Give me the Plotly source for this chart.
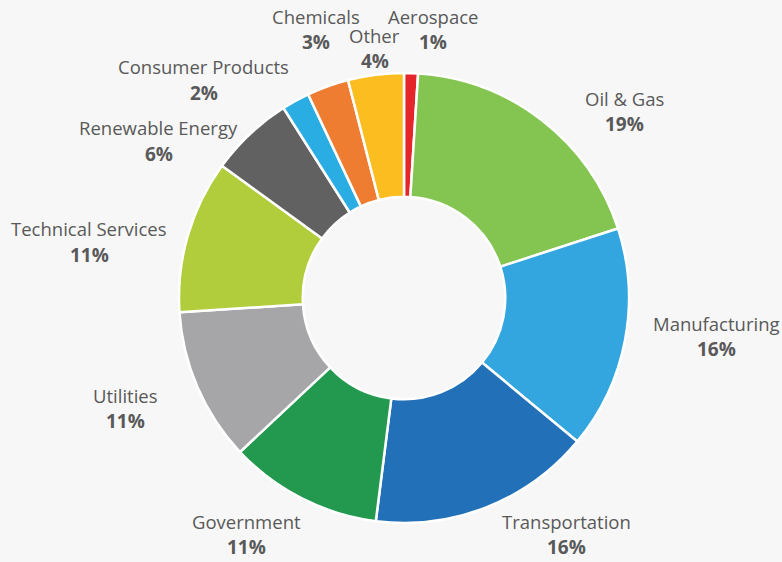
import plotly.graph_objects as go

# Industry share, listed clockwise from 12 o'clock
industries = ["Aerospace", "Oil & Gas", "Manufacturing", "Transportation", "Government",
              "Utilities", "Technical Services", "Renewable Energy", "Consumer Products",
              "Chemicals", "Other"]
shares = [1, 19, 16, 16, 11, 11, 11, 6, 2, 3, 4]
colors = ["#e4262b", "#84c451", "#34a6df", "#2271b8", "#22994f", "#a6a6a9",
          "#b1cd3b", "#616161", "#29ade3", "#ef7d31", "#fbbd1f"]

# Label centres, offset from the pie centre in units of the pie radius (x right, y up)
label_offsets = [(0.13, 1.195), (0.98, 0.83), (1.39, -0.17), (0.72, -1.05), (-0.70, -1.05),
                 (-1.24, -0.49), (-1.40, 0.25), (-1.09, 0.70), (-0.89, 0.97),
                 (-0.39, 1.195), (-0.13, 1.11)]

W, H = 782, 562
cx, cy, R = 404, 298, 225  # pixel centre and radius of the pie
line_gap = 13              # half the distance between name and percentage lines

dom_x = [(cx - R) / W, (cx + R) / W]
dom_y = [(H - cy - R) / H, (H - cy + R) / H]

fig = go.Figure(go.Pie(
    labels=industries,
    values=shares,
    sort=False,
    direction="clockwise",
    rotation=0,
    hole=0.45,
    marker=dict(colors=colors, line=dict(color="#ffffff", width=2.5)),
    textinfo="none",
    domain=dict(x=dom_x, y=dom_y),
    showlegend=False,
))

total = sum(shares)
for name, val, (ox, oy) in zip(industries, shares, label_offsets):
    px = (cx + ox * R) / W
    py_mid = H - cy + oy * R
    pct = round(100 * val / total)
    fig.add_annotation(
        x=px, y=(py_mid + line_gap) / H, xref="paper", yref="paper",
        text=name, showarrow=False, xanchor="center", yanchor="middle", borderpad=0,
        font=dict(family="Open Sans", size=18.5, color="#595959"),
    )
    fig.add_annotation(
        x=px, y=(py_mid - line_gap) / H, xref="paper", yref="paper",
        text=f"<b>{pct}%</b>", showarrow=False, xanchor="center", yanchor="middle",
        borderpad=0,
        font=dict(family="Open Sans", size=19, color="#595959"),
    )

fig.update_layout(
    width=W, height=H,
    margin=dict(l=0, r=0, t=0, b=0),
    paper_bgcolor="#f7f7f7",
    plot_bgcolor="#f7f7f7",
)

fig.write_html("out.html")
